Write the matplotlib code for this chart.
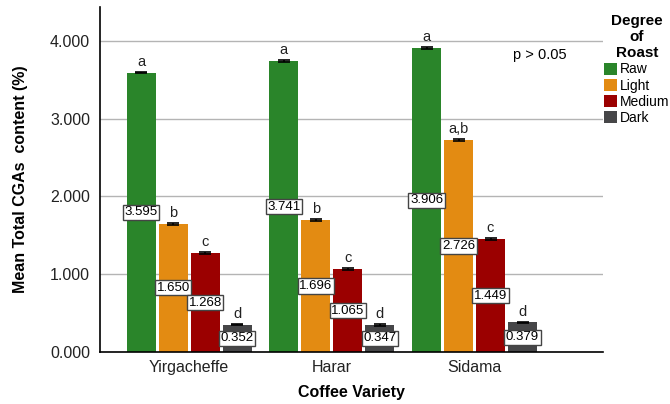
import matplotlib.pyplot as plt
import numpy as np

plt.rcParams['font.family'] = ['Liberation Sans', 'DejaVu Sans']

varieties = ['Yirgacheffe', 'Harar', 'Sidama']
roasts = ['Raw', 'Light', 'Medium', 'Dark']
colors = ['#2a852a', '#e38b12', '#9b0000', '#464648']

raw = [3.595, 3.741, 3.906]
light = [1.650, 1.696, 2.726]
medium = [1.268, 1.065, 1.449]
dark = [0.352, 0.347, 0.379]
errors = [0.012, 0.012, 0.012]

letters = {
    'Raw': ['a', 'a', 'a'],
    'Light': ['b', 'b', 'a,b'],
    'Medium': ['c', 'c', 'c'],
    'Dark': ['d', 'd', 'd'],
}

series = [raw, light, medium, dark]

fig = plt.figure(figsize=(6.7, 4.04), dpi=100)
ax = fig.add_axes([0.149, 0.129, 0.751, 0.854])

x = np.arange(len(varieties))
step = 0.224
width = 0.203

for i, (name, vals) in enumerate(zip(roasts, series)):
    pos = x + (i - 1.5) * step
    ax.bar(pos, vals, width=width, color=colors[i], label=name, zorder=2,
           yerr=errors, error_kw=dict(ecolor='black', capsize=4, elinewidth=1.2, capthick=1.2))
    for p, v, lt in zip(pos, vals, letters[name]):
        ax.text(p, v / 2, f'{v:.3f}', ha='center', va='center', fontsize=9.5, zorder=4,
                bbox=dict(boxstyle='square,pad=0.12', facecolor='white', edgecolor='#444444', linewidth=1))
        ax.text(p, v + 0.05, lt, ha='center', va='bottom', fontsize=10.5, color='#222222')

ax.text(2.46, 3.82, 'p > 0.05', ha='center', va='center', fontsize=10.5)

ax.set_xlim(-0.626, 2.90)
ax.set_ylim(0, 4.44)
ax.set_yticks([0, 1, 2, 3, 4])
ax.set_yticklabels(['0.000', '1.000', '2.000', '3.000', '4.000'], fontsize=11.5, color='#222222')
ax.set_xticks(x)
ax.set_xticklabels(varieties, fontsize=11.5, color='#222222')
ax.tick_params(axis='y', length=0, pad=7)
ax.tick_params(axis='x', length=0, pad=6)
ax.yaxis.grid(True, color='#b4b4b4', linewidth=1, zorder=0)
ax.set_axisbelow(True)
for s in ['top', 'right']:
    ax.spines[s].set_visible(False)
ax.spines['left'].set_linewidth(1.2)
ax.spines['bottom'].set_linewidth(1.2)

ax.set_ylabel('Mean Total CGAs  content (%)', fontsize=11.5, fontweight='bold', labelpad=16)
ax.set_xlabel('Coffee Variety', fontsize=11.5, fontweight='bold', labelpad=7)

leg = fig.legend(title='Degree\nof\nRoast', loc='upper left', bbox_to_anchor=(604 / 670, 1 - 14 / 404),
                 frameon=False, fontsize=10, handlelength=0.95, handleheight=1.0,
                 handletextpad=0.2, labelspacing=0.15, borderaxespad=0, borderpad=0)
leg.get_title().set_fontweight('bold')
leg.get_title().set_fontsize(11)
leg.get_title().set_multialignment('center')

fig.savefig('out.png', dpi=100)
